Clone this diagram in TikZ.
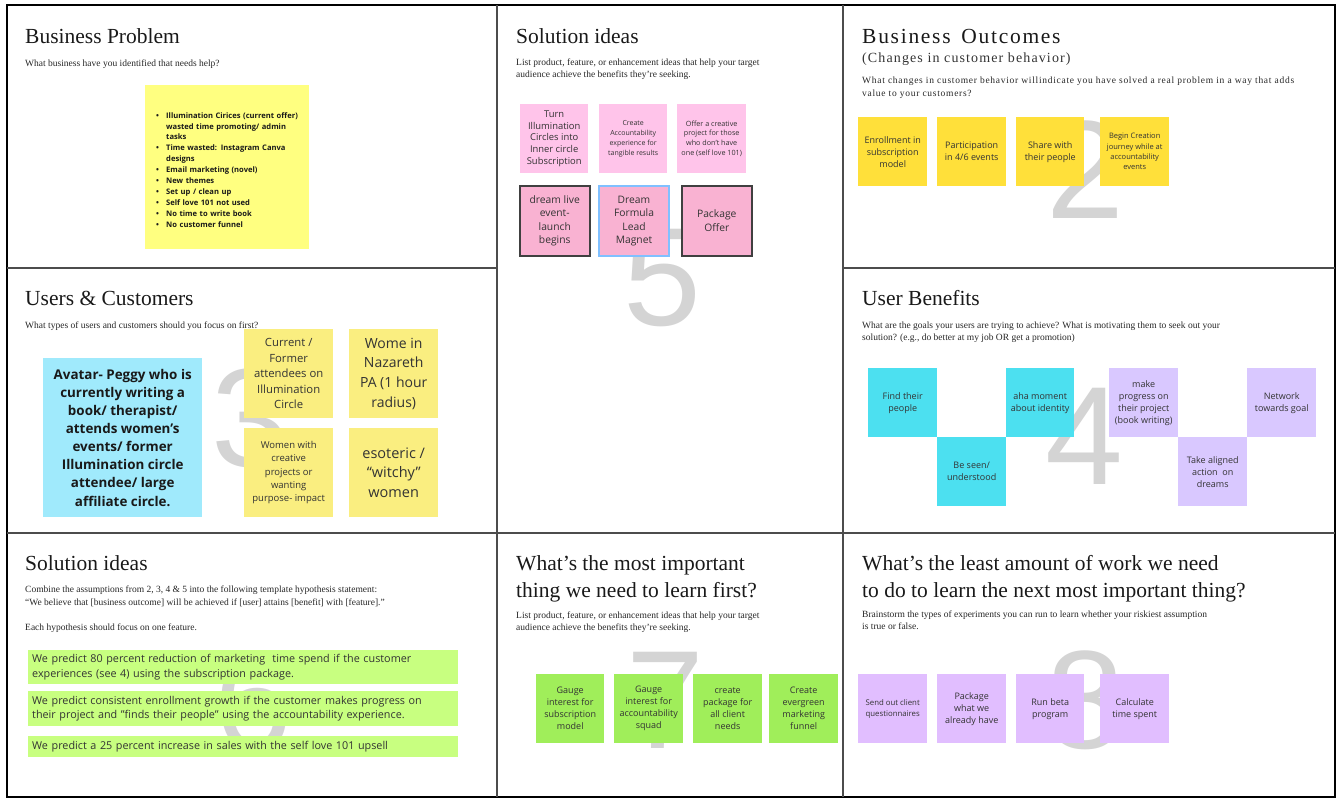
\documentclass[tikz,border=0pt]{standalone}
\usepackage{fontspec}
\setmainfont{Liberation Serif}
\newfontfamily\notefont[Ligatures=TeX]{Open Sans}
\newfontfamily\bignumfont{Liberation Sans}
\usetikzlibrary{positioning}
\definecolor{probyellow}{RGB}{255,255,128}
\definecolor{ideapink}{RGB}{255,196,234}
\definecolor{ideapinkdark}{RGB}{249,178,210}
\definecolor{outgold}{RGB}{255,224,58}
\definecolor{avatarcyan}{RGB}{160,234,252}
\definecolor{useryellow}{RGB}{250,238,128}
\definecolor{benefitcyan}{RGB}{76,224,240}
\definecolor{benefitlilac}{RGB}{217,200,255}
\definecolor{hypgreen}{RGB}{200,255,128}
\definecolor{learngreen}{RGB}{160,238,90}
\definecolor{worklilac}{RGB}{225,190,255}
\definecolor{pickblue}{RGB}{128,192,255}
\definecolor{wmgray}{RGB}{212,212,212}
\newcommand{\probitem}[1]{\par\hangindent=19pt\hangafter=1\noindent\hspace*{9pt}\makebox[10pt][l]{\textbullet}#1}
\newcommand{\brk}{\hfil\break}

\begin{document}
\begin{tikzpicture}[x=1pt, y=-1pt,
  heading/.style={anchor=base west, inner sep=0pt, align=left, font=\fontsize{21.5}{27}\selectfont, text=black!90},
  prompt/.style={anchor=base west, inner sep=0pt, align=left, font=\fontsize{9.5}{12.5}\selectfont, text=black!85},
  sticky/.style={anchor=north west, minimum width=69pt, minimum height=69pt, inner sep=1pt, align=center,
    text=black!80, font=\notefont\fontsize{9}{12}\selectfont},
  bignum/.style={text=wmgray, inner sep=0pt, font=\bignumfont\fontsize{140}{140}\selectfont},
  divider/.style={draw=black!70, line width=1.2pt}]
\useasboundingbox (0,0) rectangle (1343,803);

% board frame
\draw[line width=2.5pt] (7,5) rectangle (1335,797);
\draw[divider] (497,5) -- (497,797) (843,5) -- (843,797);
\draw[divider] (7,268) -- (497,268) (843,268) -- (1335,268) (7,533) -- (1335,533);

% watermark numbers
\node[bignum] (num2) at (1085,170) {2};
\node[bignum] (num3) at (250,418) {3};
\node[bignum] (num4) at (1084,436) {4};
\node[bignum] (num5) at (662,278) {5};
\node[bignum] (num6) at (253,702) {6};
\node[bignum] (num7) at (665,700) {7};
\node[bignum] (num8) at (1085,700) {8};

% 1 business problem (multi-line texts sit on their last baseline)
\node[heading] (probtitle) at (25,43) {Business Problem};
\node[prompt] (probask) at (25,66) {What business have you identified that needs help?};
\node[sticky, fill=probyellow, minimum width=164pt, minimum height=164pt, text width=160pt, align=left,
  font=\notefont\bfseries\fontsize{7.6}{10.9}\selectfont, text=black!90] (problist) at (145,85) {%
  \setlength{\parskip}{0pt}%
  \probitem{Illumination Cirices (current offer)\brk wasted time promoting/ admin\brk tasks}
  \probitem{Time wasted: Instagram Canva\brk designs}
  \probitem{Email marketing (novel)}
  \probitem{New themes}
  \probitem{Set up / clean up}
  \probitem{Self love 101 not used}
  \probitem{No time to write book}
  \probitem{No customer funnel}};

% 5 solution ideas
\node[heading] (soltitle) at (516,43) {Solution ideas};
\node[prompt] (solask) at (516,77.5) {List product, feature, or enhancement ideas that help your target\\audience achieve the benefits they're seeking.};
\node[sticky, fill=ideapink, minimum width=68pt, font=\notefont\fontsize{9.4}{11.7}\selectfont] (turn) at (520,104) {Turn\\Illumination\\Circles into\\Inner circle\\Subscription};
\node[sticky, fill=ideapink, minimum width=68pt, font=\notefont\fontsize{7}{10.2}\selectfont] (accexp) at (599,104) {Create\\Accountability\\experience for\\tangible results};
\node[sticky, fill=ideapink, font=\notefont\fontsize{7.2}{9.9}\selectfont] (creative) at (677,104) {Offer a creative\\project for those\\who don't have\\one (self love 101)};
\node[sticky, fill=ideapinkdark, draw=black!75, line width=1.5pt, minimum width=70pt, minimum height=70pt,
  font=\notefont\fontsize{10.3}{13.6}\selectfont] (liveevent) at (519,185) {dream live\\event-\\launch\\begins};
\node[sticky, fill=ideapinkdark, draw=pickblue, line width=2pt, minimum width=70pt, minimum height=70pt,
  font=\notefont\fontsize{10.3}{13.6}\selectfont] (leadmagnet) at (598,185) {Dream\\Formula\\Lead\\Magnet};
\node[sticky, fill=ideapinkdark, draw=black!75, line width=1.5pt, minimum width=70pt, minimum height=70pt,
  font=\notefont\fontsize{10.3}{13.6}\selectfont] (package) at (681,185) {Package\\Offer};

% 2 business outcomes
\node[heading] (outtitle) at (862,43) {\addfontfeatures{LetterSpace=8}Business\, Outcomes};
\node[prompt, font=\fontsize{14}{16}\selectfont, text=black!80] (outsub) at (862,62) {\addfontfeatures{LetterSpace=8}(Changes in customer behavior)};
\node[prompt] (outask) at (862,96) {\addfontfeatures{LetterSpace=7.5}What changes in customer behavior willindicate you have solved a real problem in a way that adds\\\addfontfeatures{LetterSpace=7.5}value to your customers?};
\node[sticky, fill=outgold] (enroll) at (858,117) {Enrollment in\\subscription\\model};
\node[sticky, fill=outgold] (particip) at (937,117) {Participation\\in 4/6 events};
\node[sticky, fill=outgold, minimum width=68pt] (share) at (1016,117) {Share with\\their people};
\node[sticky, fill=outgold, font=\notefont\fontsize{7.5}{10.3}\selectfont] (journey) at (1100,117) {Begin Creation\\journey while at\\accountability\\events};

% 3 users and customers
\node[heading] (usertitle) at (25,305) {Users \& Customers};
\node[prompt] (userask) at (25,328) {What types of users and customers should you focus on first?};
\node[sticky, fill=avatarcyan, minimum width=159pt, minimum height=159pt, text=black!90,
  font=\notefont\bfseries\fontsize{13.4}{18.1}\selectfont] (avatar) at (43,358) {Avatar- Peggy who is\\currently writing a\\book/ therapist/\\attends women's\\events/ former\\Illumination circle\\attendee/ large\\affiliate circle.};
\node[sticky, fill=useryellow, minimum width=89pt, minimum height=89pt, font=\notefont\fontsize{11.3}{15.5}\selectfont] (attendees) at (244,329) {Current /\\Former\\attendees on\\Illumination\\Circle};
\node[sticky, fill=useryellow, minimum width=89pt, minimum height=89pt, font=\notefont\fontsize{14}{19.6}\selectfont] (nazareth) at (349,329) {Wome in\\Nazareth\\PA (1 hour\\radius)};
\node[sticky, fill=useryellow, minimum width=89pt, minimum height=89pt, font=\notefont\fontsize{9.5}{13.3}\selectfont] (creators) at (244,428) {Women with\\creative\\projects or\\wanting\\purpose- impact};
\node[sticky, fill=useryellow, minimum width=89pt, minimum height=89pt, font=\notefont\fontsize{14.5}{19.7}\selectfont] (witchy) at (349,428) {esoteric /\\``witchy''\\women};

% 4 user benefits
\node[heading] (bentitle) at (862,305) {User Benefits};
\node[prompt] (benask) at (862,340.5) {What are the goals your users are trying to achieve? What is motivating them to seek out your\\solution? (e.g., do better at my job OR get a promotion)};
\node[sticky, fill=benefitcyan] (findpeople) at (868,368) {Find their\\people};
\node[sticky, fill=benefitcyan] (seen) at (937,437) {Be seen/\\understood};
\node[sticky, fill=benefitcyan, minimum width=68pt] (aha) at (1006,368) {aha moment\\about identity};
\node[sticky, fill=benefitlilac] (progress) at (1109,368) {make\\progress on\\their project\\(book writing)};
\node[sticky, fill=benefitlilac] (aligned) at (1178,437) {Take aligned\\action\ \ on\\dreams};
\node[sticky, fill=benefitlilac] (network) at (1247,368) {Network\\towards goal};

% 6 hypotheses
\node[heading] (hyptitle) at (25,570) {Solution ideas};
\node[prompt] (hypask) at (25,630) {Combine the assumptions from 2, 3, 4 \& 5 into the following template hypothesis statement:\\``We believe that [business outcome] will be achieved if [user] attains [benefit] with [feature].''\\[12.5pt]Each hypothesis should focus on one feature.};
\node[sticky, fill=hypgreen, minimum width=430pt, minimum height=34pt, text width=422pt, inner xsep=4pt, align=left,
  font=\notefont\fontsize{10.8}{14.7}\selectfont] (hyp1) at (28,650) {We predict 80 percent reduction of marketing\ \ time spend if the customer\\experiences (see 4) using the subscription package.};
\node[sticky, fill=hypgreen, minimum width=430pt, minimum height=35pt, text width=422pt, inner xsep=4pt, align=left,
  font=\notefont\fontsize{10.8}{14.7}\selectfont] (hyp2) at (28,691) {We predict consistent enrollment growth if the customer makes progress on\\their project and "finds their people" using the accountability experience.};
\node[sticky, fill=hypgreen, minimum width=430pt, minimum height=21pt, text width=422pt, inner xsep=4pt, align=left,
  font=\notefont\fontsize{10.8}{14.7}\selectfont] (hyp3) at (28,736) {We predict a 25 percent increase in sales with the self love 101 upsell};

% 7 learn first
\node[heading] (learntitle) at (516,597) {What's the most important\\thing we need to learn first?};
\node[prompt] (learnask) at (516,630.5) {List product, feature, or enhancement ideas that help your target\\audience achieve the benefits they're seeking.};
\node[sticky, fill=learngreen, minimum width=68pt] (gaugesub) at (536,674) {Gauge\\interest for\\subscription\\model};
\node[sticky, fill=learngreen] (gaugesquad) at (614,674) {Gauge\\interest for\\accountability\\squad};
\node[sticky, fill=learngreen] (clientpkg) at (693,674) {create\\package for\\all client\\needs};
\node[sticky, fill=learngreen] (funnel) at (769,674) {Create\\evergreen\\marketing\\funnel};

% 8 least work
\node[heading] (worktitle) at (862,597) {What's the least amount of work we need\\to do to learn the next most important thing?};
\node[prompt] (workask) at (862,629.5) {Brainstorm the types of experiments you can run to learn whether your riskiest assumption\\is true or false.};
\node[sticky, fill=worklilac, font=\notefont\fontsize{7.8}{11}\selectfont] (survey) at (858,674) {Send out client\\questionnaires};
\node[sticky, fill=worklilac] (packwhat) at (937,674) {Package\\what we\\already have};
\node[sticky, fill=worklilac, minimum width=68pt] (beta) at (1016,674) {Run beta\\program};
\node[sticky, fill=worklilac] (timespent) at (1100,674) {Calculate\\time spent};
\end{tikzpicture}
\end{document}
